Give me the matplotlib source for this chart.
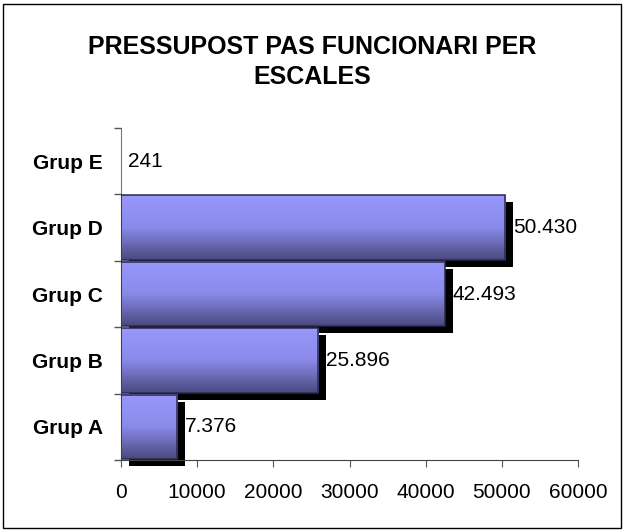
import matplotlib.pyplot as plt
import numpy as np
from matplotlib.colors import LinearSegmentedColormap
from matplotlib.patches import Rectangle
from matplotlib.transforms import ScaledTranslation

plt.rcParams['font.family'] = ['Liberation Sans', 'DejaVu Sans']

groups = ["Grup A", "Grup B", "Grup C", "Grup D", "Grup E"]
values = [7376, 25896, 42493, 50430, 241]
title = "PRESSUPOST PAS FUNCIONARI PER\nESCALES"

fig = plt.figure(figsize=(6.25, 5.32), dpi=100)
ax = fig.add_axes([0.1936, 0.1353, 0.7312, 0.6241])

# border around the whole chart
fig.patches.append(Rectangle((3 / 625, 4 / 532), 618 / 625, 524 / 532,
                             transform=fig.transFigure, fill=False,
                             edgecolor="black", linewidth=1))

ypos = np.arange(len(groups))
h = 0.97
# bars too thin to show up (Grup E) get no shadow / outline
visible = [v > 1000 for v in values]

# black drop shadows
shadow = ax.barh(ypos, values, height=h, color="black", zorder=1)
off = ScaledTranslation(0.08, -0.07, fig.dpi_scale_trans)
for p, vis in zip(shadow, visible):
    p.set_transform(ax.transData + off)
    p.set_clip_on(False)
    p.set_visible(vis)

# gradient fill per bar
cmap = LinearSegmentedColormap.from_list("bar", ["#9898FC", "#8A8AEA", "#4A4A80"])
grad = np.linspace(0, 1, 64).reshape(-1, 1)
for y, v, vis in zip(ypos, values, visible):
    if vis:
        ax.imshow(grad, extent=[0, v, y - h / 2, y + h / 2], aspect="auto",
                  cmap=cmap, origin="upper", zorder=2, interpolation="bilinear")

edges = ax.barh(ypos, values, height=h, fill=False, edgecolor="#2A2A50",
                linewidth=1.1, zorder=3)
for p, vis in zip(edges, visible):
    p.set_visible(vis)

for y, v, vis in zip(ypos, values, visible):
    ax.annotate(f"{v:,}".replace(",", "."), (v, y),
                xytext=(5.5 if vis else 3.5, 0),
                textcoords="offset points", va="center", ha="left",
                fontsize=15, zorder=4)

ax.set_xlim(0, 60000)
ax.set_ylim(-0.5, 4.5)
ax.set_xticks(range(0, 60001, 10000))
ax.set_yticks(ypos)
ax.set_yticklabels(groups, fontsize=15, fontweight="bold")
ax.set_yticks(np.arange(-0.5, 4.6, 1), minor=True)
ax.tick_params(axis="y", which="major", length=0, pad=13)
ax.tick_params(axis="y", which="minor", length=5, width=1, color="#555555")
ax.tick_params(axis="x", labelsize=15, length=5, color="#555555", pad=11.5)

for s in ["top", "right"]:
    ax.spines[s].set_visible(False)
ax.spines["left"].set_color("#777777")
ax.spines["bottom"].set_color("#444444")
ax.set_axisbelow(False)

fig.text(0.5, 0.883, title, ha="center", va="center", fontsize=18,
         fontweight="bold", linespacing=1.3)

plt.savefig("out.png", dpi=100)
